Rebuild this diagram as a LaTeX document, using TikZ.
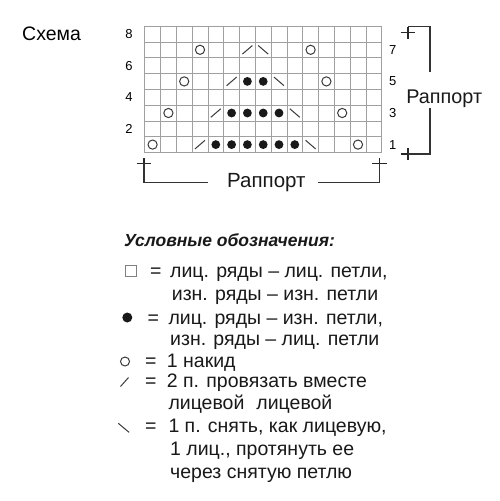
\documentclass[tikz,border=0pt]{standalone}
\usepackage{fontspec}
\setmainfont{Liberation Sans}
\usetikzlibrary{positioning}

\definecolor{gridgray}{HTML}{A0A0A0}
\definecolor{inkgray}{HTML}{3A3A3A}

\tikzset{
  gridline/.style={gridgray, line width=0.6pt},
  stitch/.style={inkgray, line width=1pt},
  purl/.style={fill=black!90},
  plusmark/.style={black!85, line width=1.5pt},
  bracket/.style={black!80, line width=1.1pt},
  rownum/.style={inner sep=0pt, font=\fontsize{13}{15}\selectfont},
  keytext/.style={anchor=base west, inner sep=0pt, black!90, font=\fontsize{19.5}{22}\selectfont},
}

\begin{document}
\begin{tikzpicture}[x=1pt,y=-1pt]
  \useasboundingbox[fill=white] (0,0) rectangle (500,501);
  % caption
  \node[anchor=base west, inner sep=0pt, font=\fontsize{19.5}{22}\selectfont] (scheme) at (22,40) {Схема};
  % chart grid
  \begin{scope}[shift={(144.7,152.5)}, x=15.8pt, y=15.8pt]
    \foreach \c in {0,...,15} \draw[gridline] (\c,0) -- (\c,8);
    \foreach \r in {0,...,8} \draw[gridline] (0,\r) -- (15,\r);
    % row numbers
    \foreach \r in {2,4,6,8} \node[rownum] (row\r) at (-1,\r-0.5) {\r};
    \foreach \r in {1,3,5,7} \node[rownum] (row\r) at (15.7,\r-0.5) {\r};
    % yarn overs
    \foreach \c/\r in {1/1,14/1,2/3,13/3,3/5,12/5,4/7,11/7}
      \draw[stitch] (\c-0.5,\r-0.5) circle (4.6pt);
    % purl stitches
    \foreach \c/\r in {5/1,6/1,7/1,8/1,9/1,10/1,6/3,7/3,8/3,9/3,7/5,8/5}
      \fill[purl] (\c-0.5,\r-0.5) circle (4.4pt);
    % two together
    \foreach \c/\r in {4/1,5/3,6/5,7/7}
      \draw[stitch] (\c-0.5,\r-0.5) ++(-5pt,-4.3pt) -- ++(10pt,8.6pt);
    % slip, knit, pass over
    \foreach \c/\r in {11/1,10/3,9/5,8/7}
      \draw[stitch] (\c-0.5,\r-0.5) ++(-5pt,4.3pt) -- ++(10pt,-8.6pt);
  \end{scope}
  % repeat marks
  \coordinate (pTR) at (408,32.7);
  \coordinate (pBRr) at (408,154);
  \coordinate (pBL) at (144,163.3);
  \coordinate (pBR) at (379.3,163.3);
  \foreach \p in {pTR,pBRr,pBL,pBR}
    \draw[plusmark] ([xshift=-7.3pt]\p) -- ([xshift=7.3pt]\p) ([yshift=-5.8pt]\p) -- ([yshift=5.8pt]\p);
  \node[keytext, font=\fontsize{19.8}{22}\selectfont] (rapR) at (406.2,103.3) {Раппорт};
  \node[keytext, font=\fontsize{20.5}{22}\selectfont] (rapB) at (227,187.5) {Раппорт};
  \draw[bracket] ([yshift=5.8pt]pTR) -| ([xshift=23.8pt,yshift=17pt]rapR.north west);
  \draw[bracket] ([xshift=23.8pt]rapR.south west) |- (pBRr);
  \draw[bracket] (pBL) |- ([xshift=-19pt]rapB.west);
  \draw[bracket] ([xshift=12pt]rapB.east) -| (pBR);
  % legend
  \node[keytext, font=\fontsize{17.5}{20}\selectfont\bfseries\itshape] (legend) at (124,246.4) {Условные обозначения:};
  \draw[gridgray!80!black, line width=0.8pt] (125.5,265.5) rectangle (136,276);
  \fill[purl] (127.3,317.5) circle (5pt);
  \draw[stitch] (125,361.5) circle (4.5pt);
  \draw[stitch] (120.5,386.5) -- (128.5,377.5);
  \draw[stitch] (118.3,423.3) -- (129,432.3);
  \foreach \n/\x/\y in {1/150/277, 3/147.3/324.5, 5/145/367, 6/145/387.5, 8/145/432.5}
    \node[keytext] (eq\n) at (\x,\y) {=};
  \foreach \n/\x/\y/\txt in {1/170/277/{лиц. ряды – лиц. петли,},
      2/171.7/300/{изн. ряды – изн. петли},
      3/168.3/324.5/{лиц. ряды – изн. петли,},
      4/170/345/{изн. ряды – лиц. петли},
      5/166.7/367/{1 накид},
      6/166.7/387.5/{2 п. провязать вместе},
      7/168.3/409.5/{лицевой\hspace{12pt}лицевой},
      8/168.3/432.5/{1 п. снять, как лицевую,},
      9/170/455/{1 лиц., протянуть ее},
      10/170/478/{через снятую петлю}}
    \node[keytext] (key\n) at (\x,\y) {\txt};
\end{tikzpicture}
\end{document}
